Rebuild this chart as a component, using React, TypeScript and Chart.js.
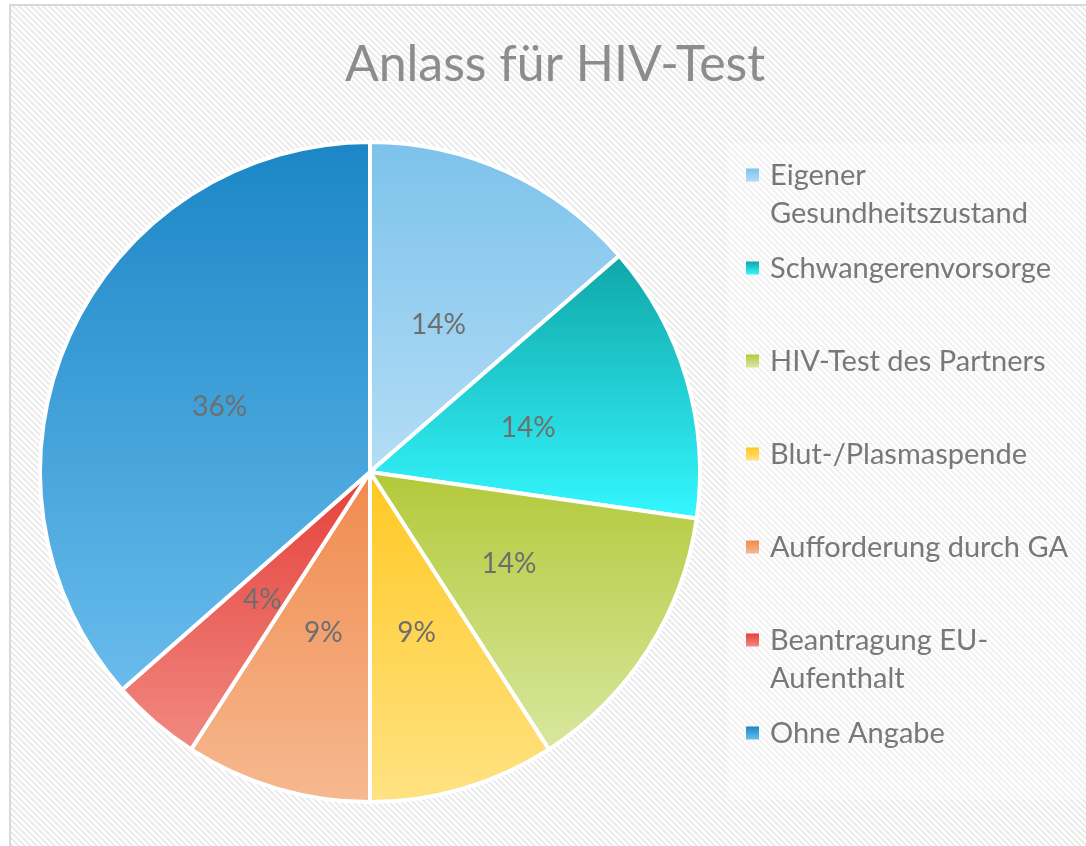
import React, { useEffect, useRef } from "react";
import { Chart, registerables } from "chart.js";

Chart.register(...registerables);

// ---- data ----
const TITLE = "Anlass für HIV-Test";
const categories = [
  "Eigener\nGesundheitszustand",
  "Schwangerenvorsorge",
  "HIV-Test des Partners",
  "Blut-/Plasmaspende",
  "Aufforderung durch GA",
  "Beantragung EU-\nAufenthalt",
  "Ohne Angabe",
];
const shares = [13.6, 13.6, 13.6, 9.1, 9.1, 4.4, 36.4];
const topColors = ["#7cc2eb", "#0fa6a7", "#b3c93a", "#ffc822", "#f08a4e", "#e5403a", "#1b86c6"];
const bottomColors = ["#b3ddf5", "#35f7ff", "#d9e79f", "#ffe283", "#f6b990", "#f08a82", "#69bcec"];

// ---- layout / style constants ----
const W = 1086;
const H = 846;
const FRAME = { x: 10, y: 5 };
const FONT = "Lato, 'Open Sans', sans-serif";
const LEGEND = { markerX: 746, textX: 770, firstBaseline: 185, step: 93, lineGap: 38, marker: 13, capHalf: 10 };

function sliceGradient(ctx: any) {
  const i = ctx.dataIndex ?? 0;
  const chart = ctx.chart;
  const area = chart.chartArea;
  if (ctx.type !== "data" || !area) return topColors[i] || topColors[0];
  const cx = (area.left + area.right) / 2;
  const cy = (area.top + area.bottom) / 2;
  const r = Math.min(area.right - area.left, area.bottom - area.top) / 2;
  const total = shares.reduce((a, b) => a + b, 0);
  let before = 0;
  for (let k = 0; k < i; k++) before += shares[k];
  const a0 = (before / total) * Math.PI * 2;
  const a1 = ((before + shares[i]) / total) * Math.PI * 2;
  const yAt = (a: number) => cy - r * Math.cos(a);
  const ys = [cy, yAt(a0), yAt(a1)];
  if (a0 <= Math.PI && a1 >= Math.PI) ys.push(cy + r);
  const y0 = Math.min(...ys);
  const y1 = Math.max(...ys);
  const g = chart.ctx.createLinearGradient(0, y0, 0, y1 + 0.01);
  g.addColorStop(0, topColors[i]);
  g.addColorStop(1, bottomColors[i]);
  return g;
}

const backgroundPlugin = {
  id: "bgPattern",
  beforeDraw(chart: any) {
    const { ctx, width, height } = chart;
    ctx.save();
    ctx.fillStyle = "#ffffff";
    ctx.fillRect(0, 0, width, height);
    const tile = document.createElement("canvas");
    tile.width = 6;
    tile.height = 6;
    const t = tile.getContext("2d")!;
    t.fillStyle = "#ffffff";
    t.fillRect(0, 0, 6, 6);
    t.fillStyle = "#ececec";
    for (let y = 0; y < 6; y++)
      for (let x = 0; x < 6; x++) if ((((x - y) % 6) + 6) % 6 < 3) t.fillRect(x, y, 1, 1);
    const pat = ctx.createPattern(tile, "repeat");
    ctx.fillStyle = pat;
    ctx.fillRect(FRAME.x, FRAME.y, width - FRAME.x, height - FRAME.y);
    ctx.fillStyle = "rgba(255,255,255,0.35)";
    ctx.fillRect(727, 143, width - 727, 800 - 143);
    ctx.strokeStyle = "#d9d9d9";
    ctx.lineWidth = 2;
    ctx.beginPath();
    ctx.moveTo(FRAME.x, height);
    ctx.lineTo(FRAME.x, FRAME.y);
    ctx.lineTo(width, FRAME.y);
    ctx.stroke();
    ctx.restore();
  },
};

const labelsPlugin = {
  id: "sliceLabels",
  afterDatasetsDraw(chart: any) {
    const { ctx } = chart;
    const meta = chart.getDatasetMeta(0);
    ctx.save();
    ctx.font = `28px ${FONT}`;
    ctx.fillStyle = "#6e6e6e";
    ctx.textAlign = "center";
    ctx.textBaseline = "middle";
    meta.data.forEach((arc: any, i: number) => {
      const p = arc.tooltipPosition(true);
      ctx.fillText(`${Math.round(shares[i])}%`, p.x, p.y + 3);
    });
    ctx.restore();
  },
};

const titleLegendPlugin = {
  id: "titleLegend",
  afterDraw(chart: any) {
    const { ctx } = chart;
    ctx.save();
    ctx.font = `50px ${FONT}`;
    ctx.fillStyle = "#8c8c8c";
    ctx.textAlign = "center";
    ctx.textBaseline = "alphabetic";
    ctx.fillText(TITLE, 555, 81);

    ctx.font = `29px ${FONT}`;
    ctx.textAlign = "left";
    categories.forEach((label, i) => {
      const base = LEGEND.firstBaseline + i * LEGEND.step;
      const my = base - LEGEND.capHalf - LEGEND.marker / 2;
      const g = ctx.createLinearGradient(0, my, 0, my + LEGEND.marker);
      g.addColorStop(0, topColors[i]);
      g.addColorStop(1, bottomColors[i]);
      ctx.fillStyle = g;
      ctx.fillRect(LEGEND.markerX, my, LEGEND.marker, LEGEND.marker);
      ctx.fillStyle = "#787878";
      label.split("\n").forEach((line, k) => {
        ctx.fillText(line, LEGEND.textX, base + k * LEGEND.lineGap);
      });
    });
    ctx.restore();
  },
};

export default function App() {
  const ref = useRef<HTMLCanvasElement>(null);
  useEffect(() => {
    document.body.style.margin = "0";
    const chart = new Chart(ref.current!, {
      type: "pie",
      data: {
        labels: categories.map((c) => c.replace("\n", " ")),
        datasets: [
          {
            data: shares,
            backgroundColor: sliceGradient as any,
            borderColor: "#ffffff",
            borderWidth: 4,
          },
        ],
      },
      options: {
        responsive: false,
        animation: false,
        layout: { padding: { left: 38, right: 384, top: 140, bottom: 42 } },
        plugins: {
          legend: { display: false },
          title: { display: false },
          tooltip: { enabled: false },
        },
      },
      plugins: [backgroundPlugin, labelsPlugin, titleLegendPlugin],
    });
    return () => chart.destroy();
  }, []);
  return (
    <div style={{ width: W, height: H }}>
      <canvas ref={ref} width={W} height={H} style={{ display: "block" }} />
    </div>
  );
}
